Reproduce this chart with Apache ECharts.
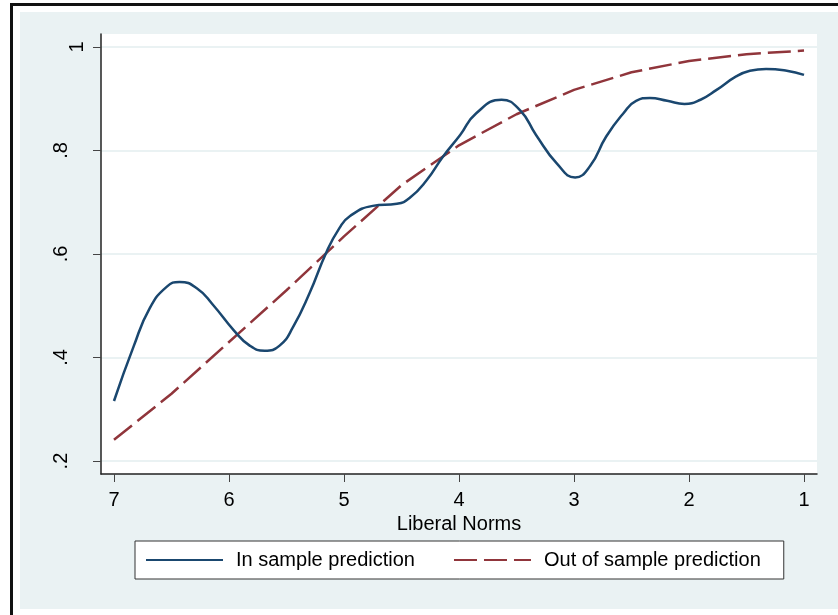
<!DOCTYPE html>
<html>
<head>
<meta charset="utf-8">
<script src="https://cdn.jsdelivr.net/npm/echarts@6/dist/echarts.min.js"></script>
<style>
  html, body { margin: 0; padding: 0; background: #ffffff; width: 838px; height: 615px; overflow: hidden; }
  #frame { position: absolute; left: 10px; top: 3px; width: 900px; height: 700px;
           border-left: 3px solid #111; border-top: 3px solid #111; }
  #region { position: absolute; left: 20px; top: 12px; width: 818px; height: 597px; background: #EAF2F3; }
  #chart { position: absolute; left: 0; top: 0; width: 838px; height: 615px; }
</style>
</head>
<body>
<div id="frame"></div>
<div id="region"></div>
<div id="chart"></div>
<script>
// ---- data ----
const seriesNames = ['In sample prediction', 'Out of sample prediction'];

// In sample prediction (x = Liberal Norms, y = predicted value)
const inSampleX = [7.00, 6.83, 6.69, 6.54, 6.43, 6.28, 6.14, 5.96, 5.82, 5.69, 5.56, 5.44, 5.30, 5.15, 5.04, 4.95,
                   4.75, 4.54, 4.43, 4.28, 4.14, 3.99, 3.85, 3.63, 3.47, 3.33, 3.15, 2.99, 2.86, 2.72, 2.57, 2.46,
                   2.34, 2.19, 2.04, 1.90, 1.76, 1.59, 1.47, 1.33, 1.15, 1.00];
const inSampleY = [0.316, 0.421, 0.495, 0.537, 0.546, 0.534, 0.502, 0.453, 0.423, 0.413, 0.423, 0.460, 0.524, 0.605, 0.650, 0.673,
                   0.693, 0.697, 0.708, 0.743, 0.788, 0.830, 0.872, 0.898, 0.878, 0.830, 0.775, 0.748, 0.770, 0.827, 0.872, 0.896,
                   0.9015, 0.896, 0.890, 0.898, 0.917, 0.943, 0.954, 0.9575, 0.954, 0.946];

// Out of sample prediction
const outSampleX = [7.0, 6.5, 6.0, 5.5, 5.0, 4.5, 4.0, 3.5, 3.0, 2.5, 2.0, 1.5, 1.0];
const outSampleY = [0.241, 0.330, 0.430, 0.530, 0.634, 0.733, 0.810, 0.870, 0.917, 0.951, 0.973, 0.986, 0.993];

// ticks
const xTicks = [7, 6, 5, 4, 3, 2, 1];
const xTickLabels = ['7', '6', '5', '4', '3', '2', '1'];
const yTicks = [0.2, 0.4, 0.6, 0.8, 1];
const yTickLabels = ['.2', '.4', '.6', '.8', '1'];
const xTitle = 'Liberal Norms';

// ---- chart ----
const FONT = "'Liberation Sans', Arial, Helvetica, sans-serif";
const pair = (xs, ys) => xs.map((x, i) => [x, ys[i]]);
const findLabel = (v, ticks, labels) => {
  const i = ticks.findIndex(t => Math.abs(t - v) < 1e-6);
  return i >= 0 ? labels[i] : '';
};

const chart = echarts.init(document.getElementById('chart'), null, { renderer: 'canvas' });
chart.setOption({
  animation: false,
  backgroundColor: 'transparent',
  textStyle: { fontFamily: FONT },
  grid: {
    left: 101, right: 21, top: 34, bottom: 141,
    show: true, backgroundColor: '#ffffff', borderWidth: 0
  },
  xAxis: {
    type: 'value',
    inverse: true,
    min: 0.887, max: 7.113,
    name: xTitle,
    nameLocation: 'middle',
    nameGap: 30,
    nameTextStyle: { fontSize: 20, color: '#000', fontFamily: FONT },
    axisLine: { show: true, onZero: false, lineStyle: { color: '#222', width: 1.5 } },
    axisTick: { show: true, length: 8, customValues: xTicks, lineStyle: { color: '#444', width: 1 } },
    axisLabel: {
      customValues: xTicks, margin: 16, fontSize: 20, color: '#000', fontFamily: FONT,
      formatter: v => findLabel(v, xTicks, xTickLabels)
    },
    splitLine: { show: false }
  },
  yAxis: {
    type: 'value',
    min: 0.175, max: 1.025,
    axisLine: { show: true, onZero: false, lineStyle: { color: '#222', width: 1.5 } },
    axisTick: { show: true, length: 8, customValues: yTicks, lineStyle: { color: '#444', width: 1 } },
    axisLabel: {
      customValues: yTicks, rotate: 90, margin: 16, fontSize: 20, color: '#000', fontFamily: FONT,
      formatter: v => {
        const t = findLabel(v, yTicks, yTickLabels);
        return Math.abs(v - 1) < 1e-6 ? '{b|' + t + '}' : '{a|' + t + '}';
      },
      rich: {
        a: { lineHeight: 48, fontSize: 20, color: '#000', fontFamily: FONT },
        b: { lineHeight: 16, fontSize: 20, color: '#000', fontFamily: FONT }
      }
    },
    splitLine: { show: true, lineStyle: { color: '#EAF2F3', width: 2 } }
  },
  legend: {
    left: 135, top: 541,
    orient: 'horizontal',
    padding: [9, 23, 9, 10],
    itemGap: 38,
    itemWidth: 77, itemHeight: 20,
    backgroundColor: '#ffffff',
    borderColor: '#333', borderWidth: 1, borderRadius: 0,
    itemStyle: { opacity: 0, borderWidth: 0 },
    textStyle: { fontSize: 20, color: '#000', fontFamily: FONT, padding: [0, 0, 0, 8] },
    data: seriesNames
  },
  series: [
    {
      name: seriesNames[0],
      type: 'line',
      data: pair(inSampleX, inSampleY),
      smooth: 0.5,
      symbol: 'none',
      lineStyle: { color: '#1A476F', width: 2.5 },
      itemStyle: { color: '#1A476F' },
      z: 3
    },
    {
      name: seriesNames[1],
      type: 'line',
      data: pair(outSampleX, outSampleY),
      smooth: false,
      symbol: 'none',
      lineStyle: { color: '#90353B', width: 2.5, type: [23, 7] },
      itemStyle: { color: '#90353B' },
      z: 2
    }
  ]
});
</script>
</body>
</html>
